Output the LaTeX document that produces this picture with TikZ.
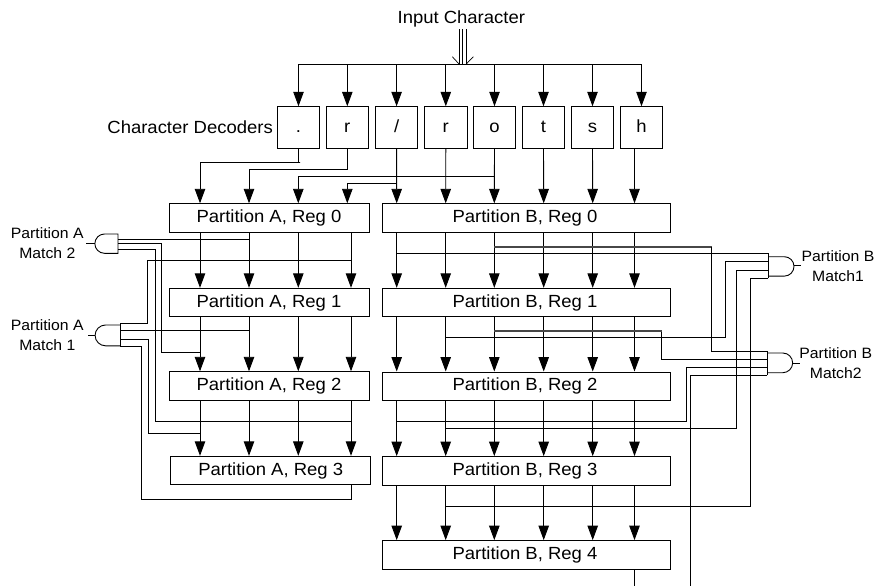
\documentclass[tikz,border=0pt]{standalone}
\usepackage{fontspec}
\setmainfont[FakeStretch=1.05]{Liberation Sans}
\usetikzlibrary{arrows.meta,calc}
\tikzset{
  wire/.style={line width=0.9pt,draw=black},
  thickwire/.style={line width=1.6pt,draw=black!72},
  arr/.style={wire,-{Triangle[length=14.5pt,width=10.5pt]}},
  regbox/.style={draw=black,line width=0.9pt,inner sep=0pt,fill=white,font=\fontsize{17.6}{20}\selectfont},
  decbox/.style={draw=black,line width=0.9pt,inner sep=0pt,minimum width=42.3pt,minimum height=42pt,text height=10pt,text depth=0pt,font=\fontsize{17.6}{20}\selectfont},
  lbl/.style={inner sep=0pt,font=\fontsize{17.6}{20}\selectfont},
  slbl/.style={inner sep=0pt,align=center,font=\fontsize{15}{19.5}\selectfont},
  gatebox/.style={inner sep=0pt,outer sep=0pt},
}
\begin{document}
\begin{tikzpicture}[x=1pt,y=-1pt]
\useasboundingbox (0,0) rectangle (875,586);
% column coordinates
\foreach \n/\x in {ca/200,cb/249,cc/298.3,cd/351,ce/347.3,b1/396.7,b2/445.7,b3/494.3,b4/543.7,b5/592.7,b6/634.5}
  \coordinate (\n) at (\x,0);
% text
\node[lbl] (input) at (461.3,19.4) {Input Character};
\node[lbl,anchor=east] (declabel) at (273,127) {Character Decoders};
% decoders
\foreach \n/\x/\t in {d1/298.5/.,d2/347.3/r,d3/396.6/{/},d4/445.8/r,d5/494.5/o,d6/543.5/t,d7/592.5/s,d8/641.5/h}
  \node[decbox] (\n) at (\x,127.7) {\t};
% registers
\foreach \n/\x/\y/\t in {A0/269/218/{Partition A, Reg 0},A1/269/302.5/{Partition A, Reg 1},A2/269/386/{Partition A, Reg 2},A3/270.7/470.5/{Partition A, Reg 3}}
  \node[regbox,minimum width=200pt,minimum height=28.5pt] (\n) at (\x,\y) {\raisebox{-1pt}{\t}};
\foreach \n/\y/\t in {B0/218/{Partition B, Reg 0},B1/302.5/{Partition B, Reg 1},B2/386.2/{Partition B, Reg 2},B3/470.8/{Partition B, Reg 3},B4/554.8/{Partition B, Reg 4}}
  \node[regbox,minimum width=288pt,minimum height=28.5pt] (\n) at (526,\y) {\raisebox{-1pt}{\hspace{-2pt}\t}};
% input bus
\coordinate (busL) at (298.5,64.3);
\coordinate (busR) at (641.5,64.3);
\draw[wire] (busL) -- (busR);
\foreach \d in {d1,d2,d3,d4,d5,d6,d7,d8}
  \draw[arr] (\d.north |- busL) -- (\d.north);
\foreach \x in {459.3,462.5,466}
  \draw[line width=0.7pt] (\x,29.3) -- (\x,64.3);
\draw[line width=0.7pt] (452.3,56.7) -- (459.3,64.3);
\draw[line width=0.7pt] (473.3,56.7) -- (466,64.3);
% decoder outputs
\draw[arr] (d1.south) |- (300,162.7) -| (ca |- A0.north);
\draw[arr] (d2.south) |- (300,169.3) -| (cb |- A0.north);
\draw[arr] (d3.south) -- (b1 |- B0.north);
\draw[arr] (d4.south) -- (b2 |- B0.north);
\draw[arr] (d5.south) -- (b3 |- B0.north);
\draw[arr] (d6.south) -- (b4 |- B0.north);
\draw[arr] (d7.south) -- (b5 |- B0.north);
\draw[arr] (d8.south -| b6) -- (b6 |- B0.north);
\draw[arr] (d5.south |- 0,176) -| (cc |- A0.north);
\draw[arr] (d3.south |- 0,183.3) -| (ce |- A0.north);
% partition A vertical connections
\foreach \u/\v in {A0/A1,A1/A2,A2/A3}
  \foreach \c in {ca,cb,cc,cd}
    \draw[arr] (\c |- \u.south) -- (\c |- \v.north);
% partition B vertical connections
\foreach \u/\v in {B0/B1,B1/B2,B2/B3,B3/B4}
  \foreach \c in {b1,b2,b3,b4,b5,b6}
    \draw[arr] (\c |- \u.south) -- (\c |- \v.north);
% gates
\node[gatebox,minimum width=23pt,minimum height=19.3pt] (GA2) at (106.5,243.65) {};
\draw[wire] (GA2.north east) -- (104.5,234) arc[start angle=90,end angle=270,radius=9.65pt] -- (GA2.south east) -- cycle;
\draw[wire] (GA2.west) -- ++(-9,0);
\node[gatebox,minimum width=25pt,minimum height=23.4pt] (GA1) at (107.5,335) {};
\draw[wire] (GA1.north east) -- (GA1.south east);
\draw[wire] (GA1.east |- 0,325) -- (105.5,325) arc[start angle=90,end angle=270,radius=10.4pt] -- (GA1.east |- 0,345.8);
\draw[wire] (GA1.west) -- ++(-7,0);
\node[gatebox,minimum width=25.5pt,minimum height=25pt] (GB1) at (781.2,265.8) {};
\draw[wire] (GB1.north west) -- (GB1.south west);
\draw[wire] (GB1.west |- 0,256.7) -- (784.3,256.7) arc[start angle=90,end angle=-90,radius=9.7pt] -- (GB1.west |- 0,276.1);
\draw[wire] (GB1.east) -- ++(7,0);
\node[gatebox,minimum width=25.4pt,minimum height=24pt] (GB2) at (780,363) {};
\draw[wire] (GB2.north west) -- (GB2.south west);
\draw[wire] (GB2.west |- 0,353) -- (782.8,353) arc[start angle=90,end angle=-90,radius=9.85pt] -- (GB2.west |- 0,372.7);
\draw[wire] (GB2.east) -- ++(7,0);
% gate labels
\node[slbl] (LA2) at (47.3,243) {Partition A\\Match 2};
\node[slbl] (LA1) at (47.3,335) {Partition A\\Match 1};
\node[slbl] (LB1) at (838,266.3) {Partition B\\Match1};
\node[slbl] (LB2) at (835.7,363) {Partition B\\Match2};
% partition A match wires
\draw[wire] (GA2.east |- 0,239.3) -- (cb |- 0,239.3);
\draw[wire] (GA2.east |- 0,243.3) -- (161.7,243.3) |- (ca |- 0,352);
\draw[wire] (GA2.east |- 0,249) -- (155,249) |- (cd |- 0,421.7);
\draw[wire] (GA1.north east) -- (147.7,323.3) |- (cd |- 0,260.7);
\draw[wire] (GA1.east |- 0,330.3) -- (cb |- 0,330.3);
\draw[wire] (GA1.east |- 0,339) -- (148.3,339) |- (ca |- 0,433.3);
\draw[wire] (GA1.south east) -- (141.7,346.7) |- (cd |- 0,499) -- (cd |- A3.south);
% partition B match wires
\draw[wire] (b1 |- 0,253.3) -- (GB1.north west |- 0,253.3);
\draw[wire] (GB1.west |- 0,261.7) -- (725.7,261.7) |- (b2 |- 0,337.3);
\draw[wire] (GB1.west |- 0,270.7) -- (736.5,270.7) |- (b2 |- 0,428.3);
\draw[wire] (GB1.south west) -- (750.4,278.3) |- (b2 |- 0,506);
\draw[thickwire] (b3 |- 0,247) -- (711.5,247);
\draw[wire] (711.5,247) |- (GB2.north west);
\draw[wire] (GB2.west |- 0,359) -- (661.7,359) -- (661.7,331);
\draw[thickwire] (661.7,331) -- (b3 |- 0,331);
\draw[wire] (GB2.west |- 0,367) -- (686.3,367) |- (b1 |- 0,421.7);
\coordinate (endR) at (690.7,586);
\draw[wire] (GB2.south west) -- (690.7,375) -- (endR);
\coordinate (endB) at (b6 |- endR);
\draw[wire] (b6 |- B4.south) -- (endB);
\end{tikzpicture}
\end{document}
